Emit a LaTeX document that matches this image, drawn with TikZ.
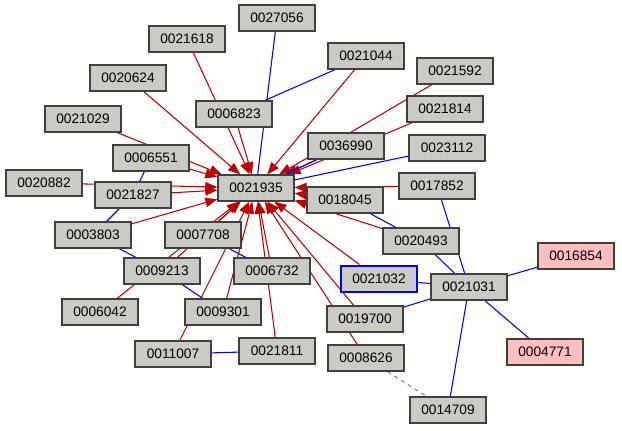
\documentclass[tikz,border=0pt]{standalone}
\usepackage{fontspec}
\setmainfont{Liberation Sans}
\usetikzlibrary{arrows.meta, backgrounds}
\definecolor{boxgray}{HTML}{CACBC5}
\definecolor{boxpink}{HTML}{FFBFBF}
\definecolor{arrowred}{HTML}{C00000}
\tikzstyle{doc} = [rectangle, minimum width=57pt, minimum height=19.5pt, inner sep=1pt, text centered, draw=black!75, line width=1pt, fill=boxgray, font=\fontsize{10.3}{11}\selectfont]
\tikzstyle{hot} = [doc, fill=boxpink]
\tikzstyle{focus} = [doc, draw=blue, line width=2.2pt]
\tikzstyle{cite} = [arrowred, line width=0.8pt, -{Triangle[length=9pt, width=7pt]}]
\tikzstyle{link} = [blue, line width=0.8pt]

\begin{document}
\begin{tikzpicture}[x=0.75pt, y=-0.75pt]
\useasboundingbox (0,0) rectangle (622,431);

\node (a) [doc] at (277,18) {0027056};
\node (b) [doc] at (187,39) {0021618};
\node (c) [doc] at (366,56) {0021044};
\node (d) [doc] at (455,71) {0021592};
\node (e) [doc] at (128,78) {0020624};
\node (f) [doc] at (234,114) {0006823};
\node (g) [doc] at (445,109) {0021814};
\node (i) [doc] at (83,119) {0021029};
\node (j) [doc] at (346,146) {0036990};
\node (k) [doc] at (447,148) {0023112};
\node (l) [doc] at (151,158) {0006551};
\node (m) [doc] at (44,183) {0020882};
\node (n) [doc] at (133,195) {0021827};
\node (o) [doc] at (437,186) {0017852};
\node (p) [doc] at (345,200) {0018045};
\node (q) [doc] at (93,235) {0003803};
\node (r) [doc] at (203,235) {0007708};
\node (s) [doc] at (421,241) {0020493};
\node (t) [hot] at (576,256) {0016854};
\node (u) [doc] at (162,271) {0009213};
\node (v) [doc] at (272,271) {0006732};
\node (w) [focus] at (379,279) {0021032};
\node (x) [doc] at (469,287) {0021031};
\node (y) [doc] at (100,312) {0006042};
\node (z) [doc] at (223,312) {0009301};
\node (aa) [doc] at (365,319) {0019700};
\node (ab) [hot] at (545,352) {0004771};
\node (ac) [doc] at (173,354) {0011007};
\node (ad) [doc] at (277,351) {0021811};
\node (ae) [doc] at (366,358) {0008626};
\node (af) [doc] at (448,410) {0014709};
\node (hub) [doc] at (256,188) {0021935};

\begin{scope}[on background layer]
\foreach \src in {b,c,d,e,f,g,i,j,l,m,n,o,p,q,r,s,u,v,w,y,z,aa,ac,ad,ae}
  \draw [cite] (\src) -- (hub);
\draw [link] (a) -- (hub);
\draw [link] (c) -- (f);
\draw [link] (j) -- (hub);
\draw [link] (k) -- (hub);
\draw [link] (l) -- (n);
\draw [link] (n) -- (q);
\draw [link] (q) -- (u);
\draw [link] (r) -- (v);
\draw [link] (u) -- (z);
\draw [link] (ac) -- (ad);
\draw [link] (p) -- (s);
\draw [link] (o) -- (x);
\draw [link] (s) -- (x);
\draw [link] (w) -- (x);
\draw [link] (t) -- (x);
\draw [link] (ab) -- (x);
\draw [link] (aa) -- (x);
\draw [link] (af) -- (x);
\draw [gray, dashed, line width=0.8pt] (ae) -- (af);
\end{scope}

\end{tikzpicture}
\end{document}
